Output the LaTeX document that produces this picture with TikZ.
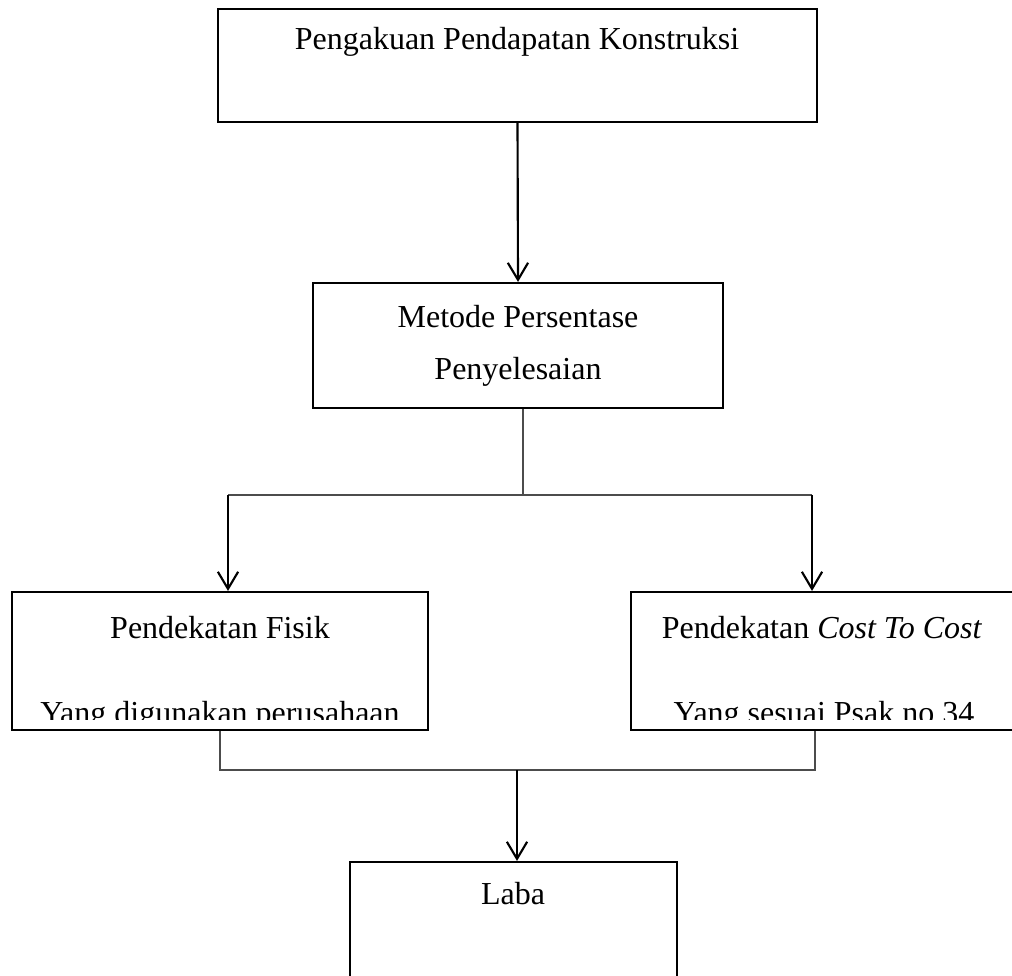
\documentclass[tikz,border=0pt]{standalone}
\usepackage{fontspec}
\setmainfont{Liberation Serif}
\usepackage{tikz}
\usetikzlibrary{arrows.meta,fit}
\definecolor{ggline}{rgb}{0.3,0.3,0.3}

\begin{document}
\begin{tikzpicture}[line join=miter,x=0.375pt,y=0.375pt,
  box/.style={draw,line width=0.8pt,inner sep=0pt},
  txt/.style={font=\fontsize{12}{14}\selectfont,inner sep=0pt,anchor=base},
  arr/.style={line width=0.8pt,-{Straight Barb[length=6.4pt,width=7.6pt,line width=0.8pt]}},
  thinln/.style={line width=0.45pt,color=ggline}]
\useasboundingbox (0,0) rectangle (1012,-976);
\clip (0,0) rectangle (1012,-976);
% boxes
\node[box,fit={(218,-9) (817,-122)}] (peng) {};
\node[box,fit={(313,-283) (723,-408)}] (metode) {};
\node[box,fit={(12,-592) (428,-730)}] (fisik) {};
\node[box,fit={(631,-592) (1014,-730)}] (cost) {};
\node[box,fit={(350,-862) (677,-990)}] (laba) {};
% texts
\node[txt] (pengT) at (517,-50) {Pengakuan Pendapatan Konstruksi};
\node[txt] (metodeT1) at (518,-328) {Metode Persentase};
\node[txt] (metodeT2) at (518,-380) {Penyelesaian};
\node[txt] (fisikT1) at (220,-638) {Pendekatan Fisik};
\node[txt] (costT1) at (822,-638) {Pendekatan \textit{Cost To Cost}};
\begin{scope}
\clip (12,-592) rectangle (1012,-719);
\node[txt] (fisikT2) at (220,-723) {Yang digunakan perusahaan};
\node[txt] (costT2) at (824,-723) {Yang sesuai Psak no 34};
\end{scope}
\node[txt] (labaT) at (513,-904) {Laba};
% connectors
\coordinate (split) at (523,-495);
\coordinate (jl) at (228,-495);
\coordinate (jr) at (812,-495);
\coordinate (bl) at (220,-770);
\coordinate (br) at (815,-770);
\coordinate (mid) at (517,-770);
\draw[arr] (peng.south) -- (metode.north);
\draw[thinln] (metode.south -| split) -- (split);
\draw[thinln] (jl) -- (jr);
\draw[arr] (jl) -- (jl |- fisik.north);
\draw[arr] (jr) -- (jr |- cost.north);
\draw[thinln] (fisik.south -| bl) -- (bl) -- (br) -- (br |- cost.south);
\draw[arr] (mid) -- (mid |- laba.north);
\end{tikzpicture}
\end{document}
